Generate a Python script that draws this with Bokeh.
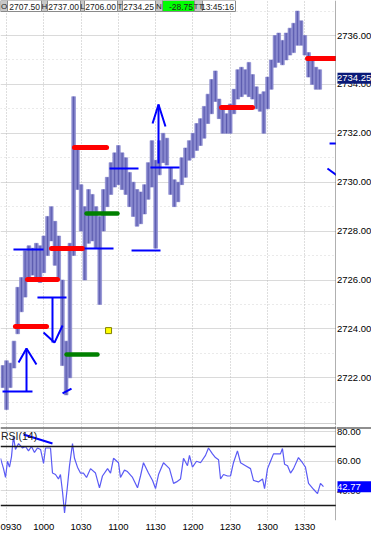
from bokeh.plotting import figure
from bokeh.layouts import column, row
from bokeh.models import Range1d, FixedTicker, Label, Span, Grid
from bokeh.core.properties import value
from bokeh.embed import file_html
from bokeh.resources import INLINE

# ---------------- data ----------------
# 3-minute bars, minutes after 09:30
bar_minutes = list(range(-3, 255, 3))
bar_high = [2722.5, 2722.7, 2722.6, 2723.5, 2725.7, 2726.1, 2727.2, 2727.4, 2727.3, 2727.5,
            2727.4, 2727.8, 2728.6, 2729.0, 2728.4, 2727.8, 2726.0, 2723.5, 2727.5, 2733.5,
            2731.5, 2729.9, 2729.0, 2729.7, 2729.5, 2729.0, 2728.6, 2729.7, 2730.2, 2730.8,
            2731.2, 2731.5, 2731.2, 2731.0, 2730.4, 2730.0, 2729.7, 2729.6, 2729.9, 2730.8,
            2731.7, 2730.9, 2731.7, 2732.0, 2731.8, 2730.6, 2730.1, 2730.0, 2731.0, 2731.4,
            2731.7, 2732.0, 2732.4, 2732.6, 2733.1, 2733.6, 2734.2, 2734.55, 2733.4, 2733.0,
            2732.8, 2733.2, 2733.8, 2734.6, 2734.7, 2734.6, 2734.9, 2734.4, 2733.9, 2733.6,
            2733.7, 2734.3, 2735.0, 2736.0, 2736.1, 2735.8, 2736.1, 2736.3, 2736.5, 2737.0,
            2736.6, 2736.0, 2735.3, 2735.0, 2734.7, 2734.6]
bar_low = [2721.6, 2720.7, 2721.6, 2722.4, 2723.8, 2724.7, 2725.3, 2726.0, 2726.2, 2726.0,
           2725.9, 2726.3, 2727.0, 2727.6, 2726.6, 2726.0, 2722.5, 2721.3, 2722.0, 2727.0,
           2729.7, 2728.0, 2726.0, 2727.5, 2727.6, 2727.3, 2725.0, 2728.0, 2729.0, 2729.5,
           2729.8, 2729.9, 2729.7, 2729.5, 2729.0, 2728.6, 2728.2, 2728.3, 2728.7, 2729.3,
           2729.8, 2727.3, 2730.3, 2730.8, 2730.7, 2729.5, 2729.0, 2729.2, 2729.9, 2730.2,
           2730.9, 2731.0, 2731.3, 2731.5, 2731.8, 2732.4, 2732.8, 2733.3, 2732.6, 2732.0,
           2732.0, 2732.0, 2732.8, 2733.4, 2733.5, 2733.6, 2733.5, 2733.4, 2733.0, 2732.9,
           2732.0, 2733.0, 2733.8, 2734.7, 2734.9, 2734.8, 2735.0, 2735.2, 2735.3, 2735.6,
           2735.6, 2735.2, 2734.3, 2734.0, 2733.8, 2733.8]

rsi_minutes = [-4.8, -2.4, -0.8, 0.8, 2.4, 4.0, 5.6, 7.2, 9.7, 12.9,
               15.3, 17.7, 20.1, 22.5, 24.9, 27.4, 29.8, 31.4, 35.4, 37.0,
               39.4, 41.8, 43.4, 45.1, 46.7, 49.1, 50.7, 53.1, 54.7, 57.1,
               59.5, 61.9, 64.4, 67.6, 71.6, 74.8, 77.2, 81.3, 83.7, 86.1,
               90.1, 91.7, 94.9, 97.3, 101.4, 105.4, 107.8, 110.2, 114.2, 117.5,
               119.9, 122.3, 126.3, 128.7, 131.1, 134.4, 136.8, 140.0, 142.4, 145.6,
               147.2, 149.6, 152.9, 156.1, 160.1, 162.5, 165.7, 168.1, 170.6, 172.2,
               174.6, 177.8, 180.2, 182.6, 185.8, 188.3, 192.3, 196.3, 198.7, 202.7,
               206.0, 207.6, 210.0, 212.4, 214.8, 220.4, 222.0, 223.7, 226.1, 228.5,
               230.9, 234.9, 238.1, 240.5, 243.0, 247.0, 250.2, 252.6, 255.0]
rsi_values = [62, 55, 49, 60, 56, 63, 77, 68, 72, 69,
              70, 67, 70, 66, 69, 68, 58.5, 69, 69, 52,
              51, 48, 51, 39, 25, 43.6, 57, 72, 62, 56,
              52, 52, 49, 55, 52, 42, 50, 55, 52, 62,
              59, 49, 54, 53, 49, 42, 50, 59, 52, 47,
              41.5, 51, 59, 57, 55, 45, 46, 48, 62, 57,
              64, 56, 60, 59, 64, 69, 65, 62.5, 61, 48,
              51, 50, 50, 59, 67, 59, 57, 55, 47, 46,
              48, 41.5, 55, 60, 65, 65, 68.6, 58, 57, 52,
              55, 62.5, 59, 56, 45, 41, 38, 45, 42.77]

# drawn levels (minutes, price)
red_start = [7.2, 16.9, 36.2, 54.7, 173.0, 242.2]
red_end = [32.2, 41.0, 61.1, 80.5, 197.9, 272.0]
red_price = [2724.10, 2726.02, 2727.29, 2731.42, 2733.06, 2735.06]
green_start = [48.3, 64.4]
green_end = [73.2, 89.3]
green_price = [2722.95, 2728.72]
blue_start = [-3.2, 5.6, 24.9, 62.8, 82.9, 100.6, 115.8, 259.9]
blue_end = [20.9, 29.8, 48.3, 86.1, 106.2, 123.9, 139.2, 268.0]
blue_price = [2721.44, 2727.25, 2725.28, 2727.29, 2730.56, 2727.21, 2730.60, 2731.58]
stroke_xs = [[16.1, 16.1], [9.7, 16.1, 24.1],
             [37.0, 37.0], [29.8, 38.6, 45.1],
             [45.1, 52.3],
             [122.3, 122.3], [117.5, 122.3, 127.9],
             [258.2, 268.0]]
stroke_ys = [[2721.44, 2723.20], [2722.63, 2723.20, 2722.54],
             [2725.28, 2723.44], [2723.85, 2723.44, 2724.14],
             [2721.36, 2721.56],
             [2730.76, 2733.18], [2732.40, 2733.18, 2732.28],
             [2730.56, 2730.20]]
marker_minute = [82.1]
marker_price = [2723.93]
rsi_stroke_x = [13.7, 37.0]
rsi_stroke_y = [78.1, 72.0]

price_ticks = [2722, 2724, 2726, 2728, 2730, 2732, 2734, 2736]
price_minor = [2721, 2723, 2725, 2727, 2729, 2731, 2733, 2735, 2737]
rsi_ticks = [80, 60, 40]
time_ticks = [0, 30, 60, 90, 120, 150, 180, 210, 240]
time_labels = ["0930", "1000", "1030", "1100", "1130", "1200", "1230", "1300", "1330"]
header_texts = ["O", "2707.50", "H", "2737.00", "L", "2706.00", "T", "2734.25",
                "N", "-28.75", "TT", "13:45:16"]
last_price = 2734.25
last_rsi = 42.77

# ---------------- layout helpers (pixels -> data) ----------------
X_PX0, X_PPM = 6.0, 1.243          # pixel of 09:30, pixels per minute
Y_PX_REF, Y_PPP = 35.0, 24.45      # pixel of 2736, pixels per point
R_PX70, R_PPU = 446.0, 1.475       # pixel of RSI 70, pixels per unit


def mx(px):
    return (px - X_PX0) / X_PPM


def py(pxy):
    return 2736 - (pxy - Y_PX_REF) / Y_PPP


def rv(pxy):
    return 70 - (pxy - R_PX70) / R_PPU


FONT = "Liberation Sans"
MAIN_H, RSI_H = 425, 111
PLOT_W, SIDE_W = 336, 35
BORDER = "#606060"
SCALE_FONT = "9.5px"

xr = Range1d(mx(0), mx(PLOT_W))
yr_main = Range1d(py(MAIN_H), py(0))
yr_rsi = Range1d(rv(520), rv(MAIN_H))
side_x = Range1d(0, SIDE_W)


def base(width, height, x_range, y_range, bottom=0, x_axis=None):
    f = figure(width=width, height=height, x_range=x_range, y_range=y_range,
               output_backend="svg", toolbar_location=None,
               x_axis_location=x_axis, y_axis_location=None,
               min_border_left=0, min_border_right=0, min_border_top=0, min_border_bottom=bottom,
               outline_line_color=None, background_fill_color="white", border_fill_color="white")
    f.grid.visible = False
    return f


# ---------------- main price panel ----------------
p = base(PLOT_W, MAIN_H, xr, yr_main)
p.add_layout(Grid(dimension=1, ticker=FixedTicker(ticks=price_ticks),
                  grid_line_color="#DADADA", grid_line_width=1))
p.add_layout(Grid(dimension=1, ticker=FixedTicker(ticks=price_minor),
                  grid_line_color="#D4D4D4", grid_line_dash="1 3"))
p.add_layout(Grid(dimension=0, ticker=FixedTicker(ticks=time_ticks),
                  grid_line_color="#BDBDBD", grid_line_dash="1 2"))

p.vbar(x=bar_minutes, top=bar_high, bottom=bar_low, width=3.0,
       fill_color="#8585CC", line_color="#8585CC", line_width=0.6)
p.segment(x0=bar_minutes, y0=bar_low, x1=bar_minutes, y1=bar_high,
          line_color="#5A5AAE", line_width=1)

p.segment(x0=red_start, y0=red_price, x1=red_end, y1=red_price,
          line_color="#FF0000", line_width=5, line_cap="round")
p.segment(x0=green_start, y0=green_price, x1=green_end, y1=green_price,
          line_color="#008000", line_width=4.5, line_cap="round")
p.segment(x0=blue_start, y0=blue_price, x1=blue_end, y1=blue_price,
          line_color="#0000FF", line_width=2)
p.multi_line(xs=stroke_xs, ys=stroke_ys, line_color="#0000FF", line_width=2)
p.scatter(x=marker_minute, y=marker_price, marker="square", size=6,
          fill_color="#FFFF00", line_color="#808000")

# header strip
HDR_EDGES = [0, 7, 41, 47, 80, 84, 117, 122, 155, 162, 194, 202, 235]
HDR_H = 11
hdr_fill = []
for i in range(len(header_texts)):
    if i % 2 == 0:
        hdr_fill.append("#C8C8C8")
    elif header_texts[i - 1] == "N":
        hdr_fill.append("#00FF00")
    else:
        hdr_fill.append("#FFFFFF")
p.quad(left=[mx(e) for e in HDR_EDGES[:-1]], right=[mx(e) for e in HDR_EDGES[1:]],
       top=py(0), bottom=py(HDR_H), fill_color=hdr_fill, line_color="#8A8A8A", line_width=1)
p.text(x=[(mx(HDR_EDGES[i]) + mx(HDR_EDGES[i + 1])) / 2 for i in range(0, 12, 2)],
       y=py(HDR_H / 2 + 0.5), text=header_texts[0::2], text_font=value(FONT),
       text_font_size="8px", text_align="center", text_baseline="middle", text_color="#202020")
p.text(x=[mx(HDR_EDGES[i + 1] - 1.5) for i in range(1, 12, 2)],
       y=py(HDR_H / 2 + 0.5), text=header_texts[1::2], text_font=value(FONT),
       text_font_size="8.5px", text_align="right", text_baseline="middle", text_color="#202020")

p.add_layout(Span(location=py(MAIN_H - 2), dimension="width", line_color="#D0D0D0", line_width=1))
p.add_layout(Span(location=mx(PLOT_W - 0.5), dimension="height", line_color=BORDER, line_width=1))

# price scale strip
ps = base(SIDE_W, MAIN_H, side_x, yr_main)
ps.text(x=0.5, y=price_ticks, text=[f"{t:.2f}" for t in price_ticks], text_font=value(FONT),
        text_font_size=SCALE_FONT, text_baseline="middle", text_align="left", text_color="#000000")
ps.rect(x=SIDE_W / 2 + 1, y=last_price, width=SIDE_W, height=11, height_units="screen",
        fill_color="#0A1A78", line_color=None)
ps.text(x=0.5, y=[last_price], text=[f"{last_price:.2f}"], text_font=value(FONT),
        text_font_size=SCALE_FONT, text_baseline="middle", text_align="left", text_color="#FFFFFF")

# ---------------- RSI panel ----------------
r = base(PLOT_W, RSI_H, xr, yr_rsi, bottom=16, x_axis="below")
r.xaxis.ticker = FixedTicker(ticks=time_ticks)
r.xaxis.major_label_overrides = {t: s for t, s in zip(time_ticks, time_labels)}
r.xaxis.axis_line_color = None
r.xaxis.major_tick_line_color = None
r.xaxis.minor_tick_line_color = None
r.xaxis.major_tick_out = 0
r.xaxis.major_label_standoff = 3
r.xaxis.major_label_text_font = FONT
r.xaxis.major_label_text_font_size = "9.5px"
r.xaxis.major_label_text_color = "#000000"

r.add_layout(Grid(dimension=1, ticker=FixedTicker(ticks=rsi_ticks),
                  grid_line_color="#DADADA", grid_line_width=1))
r.add_layout(Grid(dimension=0, ticker=FixedTicker(ticks=time_ticks),
                  grid_line_color="#BDBDBD", grid_line_dash="1 2"))
for lvl in (70, 30):
    r.add_layout(Span(location=lvl, dimension="width", line_color="#1A1A1A", line_width=1.5))
r.add_layout(Span(location=rv(MAIN_H + 2.5), dimension="width", line_color="#6A6A6A", line_width=1.5))
r.add_layout(Span(location=mx(PLOT_W - 0.5), dimension="height", line_color=BORDER, line_width=1))

r.line(x=rsi_minutes, y=rsi_values, line_color="#5A5AF5", line_width=1.2)
r.line(x=rsi_stroke_x, y=rsi_stroke_y, line_color="#0000FF", line_width=2)
r.add_layout(Label(x=mx(0.5), y=rv(429), text="RSI(14)", text_font=FONT, text_font_size="10.5px",
                   text_baseline="top", text_align="left", text_color="#202020"))

rs = base(SIDE_W, RSI_H, side_x, yr_rsi, bottom=16)
rs.add_layout(Span(location=rv(MAIN_H + 2.5), dimension="width", line_color="#6A6A6A", line_width=1.5))
rs.text(x=0.5, y=rsi_ticks, text=[f"{t:.2f}" for t in rsi_ticks], text_font=value(FONT),
        text_font_size=SCALE_FONT, text_baseline="middle", text_align="left", text_color="#000000")
rs.rect(x=SIDE_W / 2 + 1, y=last_rsi, width=SIDE_W, height=11, height_units="screen",
        fill_color="#0000FF", line_color=None)
rs.text(x=0.5, y=[last_rsi], text=[f"{last_rsi:.2f}"], text_font=value(FONT),
        text_font_size=SCALE_FONT, text_baseline="middle", text_align="left", text_color="#FFFFFF")

layout = row(column(p, r, spacing=0), column(ps, rs, spacing=0), spacing=0)
open("out.html", "w").write(file_html(layout, INLINE))
